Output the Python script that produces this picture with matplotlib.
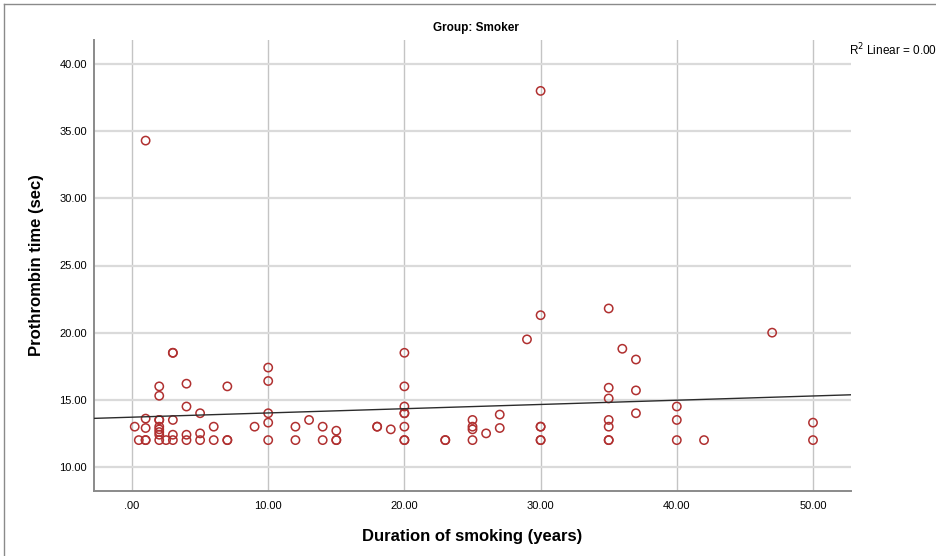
import numpy as np
import matplotlib
matplotlib.use("Agg")
import matplotlib.pyplot as plt
from matplotlib.lines import Line2D

plt.rcParams['font.family'] = ['Liberation Sans', 'DejaVu Sans']

# duration of smoking (years) and prothrombin time (sec), smoker group
duration = [0.2, 0.5,
            1, 1, 1, 1, 1,
            2, 2, 2, 2, 2, 2, 2, 2, 2,
            2.5,
            3, 3, 3, 3, 3,
            4, 4, 4, 4,
            5, 5, 5,
            6, 6,
            7, 7, 7,
            9,
            10, 10, 10, 10, 10,
            12, 12,
            13,
            14, 14,
            15, 15, 15,
            18, 18,
            19,
            20, 20, 20, 20, 20, 20, 20, 20,
            23, 23,
            25, 25, 25, 25,
            26,
            27, 27,
            29,
            30, 30, 30, 30, 30, 30,
            35, 35, 35, 35, 35, 35, 35,
            36,
            37, 37, 37,
            40, 40, 40,
            42,
            47,
            50, 50]
pt_sec = [13.0, 12.0,
          34.3, 13.6, 12.9, 12.0, 12.0,
          16.0, 15.3, 13.5, 13.5, 13.0, 12.8, 12.6, 12.4, 12.0,
          12.0,
          18.5, 18.5, 13.5, 12.4, 12.0,
          16.2, 14.5, 12.4, 12.0,
          14.0, 12.5, 12.0,
          13.0, 12.0,
          16.0, 12.0, 12.0,
          13.0,
          17.4, 16.4, 14.0, 13.3, 12.0,
          13.0, 12.0,
          13.5,
          13.0, 12.0,
          12.7, 12.0, 12.0,
          13.0, 13.0,
          12.8,
          18.5, 16.0, 14.5, 14.0, 14.0, 13.0, 12.0, 12.0,
          12.0, 12.0,
          13.5, 13.0, 12.8, 12.0,
          12.5,
          13.9, 12.9,
          19.5,
          38.0, 21.3, 13.0, 13.0, 12.0, 12.0,
          21.8, 15.9, 15.1, 13.5, 13.0, 12.0, 12.0,
          18.8,
          18.0, 15.7, 14.0,
          14.5, 13.5, 12.0,
          12.0,
          20.0,
          13.3, 12.0]

x_ticks = [0, 10, 20, 30, 40, 50]
x_labels = ['.00', '10.00', '20.00', '30.00', '40.00', '50.00']
y_ticks = [10, 15, 20, 25, 30, 35, 40]
y_labels = ['10.00', '15.00', '20.00', '25.00', '30.00', '35.00', '40.00']

W, H = 937, 556
fig = plt.figure(figsize=(W / 100, H / 100), dpi=100)
ax = fig.add_axes([94 / W, 1 - 491 / H, (851 - 94) / W, (491 - 40) / H])

xlim = (-2.79, 52.79)
ax.set_xlim(*xlim)
ax.set_ylim(8.21, 41.79)

# grid
for v in x_ticks:
    ax.axvline(v, color='#c4c4c4', lw=1.0, zorder=0)
for v in y_ticks:
    ax.axhline(v, color='#dadada', lw=1.6, zorder=0)

ax.scatter(duration, pt_sec, s=36, facecolors='none', edgecolors='#b03030',
           linewidths=1.1, zorder=3)

# linear fit line across the full x range
b, a = np.polyfit(duration, pt_sec, 1)
xs = np.array(xlim)
ax.plot(xs, a + b * xs, color='#2b2b2b', lw=1.0, zorder=4)

ax.set_xticks(x_ticks)
ax.set_xticklabels(x_labels)
ax.set_yticks(y_ticks)
ax.set_yticklabels(y_labels)
ax.tick_params(length=0, labelsize=8, colors='#000000')
ax.tick_params(axis='y', pad=5)
ax.tick_params(axis='x', pad=7)

for s in ['top', 'right']:
    ax.spines[s].set_visible(False)
for s in ['left', 'bottom']:
    ax.spines[s].set_color('#8a8a8a')
    ax.spines[s].set_linewidth(1.4)

ax.set_xlabel('Duration of smoking (years)', fontsize=12, fontweight='bold', labelpad=13)
ax.set_ylabel('Prothrombin time (sec)', fontsize=12, fontweight='bold', labelpad=11)

fig.text(476 / W, 1 - 28 / H, 'Group: Smoker', fontsize=8.5, fontweight='bold',
         ha='center', va='center')
fig.text(849 / W, 1 - 50 / H, 'R$^2$ Linear = 0.00', fontsize=8.5,
         ha='left', va='center')

# outer frame
fig.add_artist(Line2D([4 / W, 1.0], [1 - 4 / H, 1 - 4 / H], color='#8a8a8a', lw=1.0,
                      transform=fig.transFigure))
fig.add_artist(Line2D([4 / W, 4 / W], [0.0, 1 - 4 / H], color='#8a8a8a', lw=1.0,
                      transform=fig.transFigure))

fig.savefig('out.png', dpi=100)
